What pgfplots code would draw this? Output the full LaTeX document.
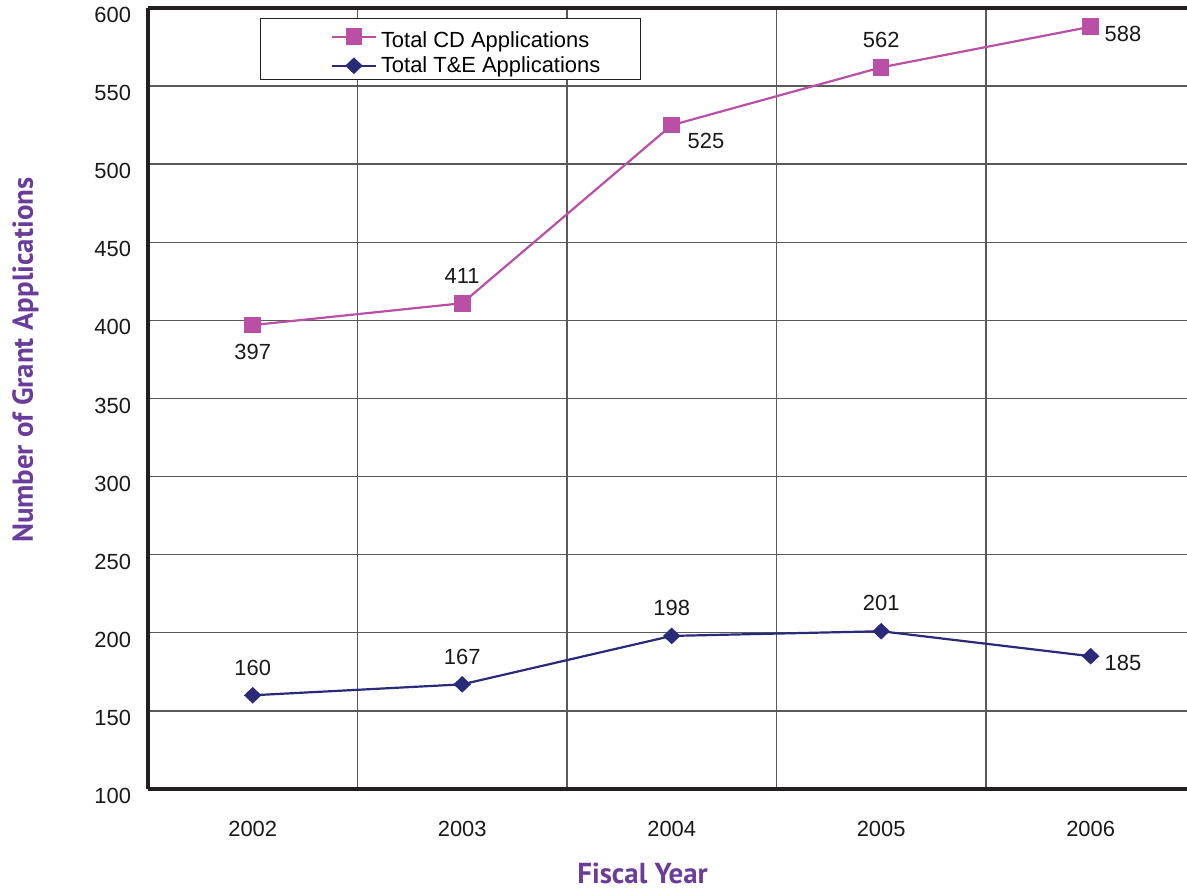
\documentclass[border=0pt]{standalone}
\usepackage{pgfplots}
\pgfplotsset{compat=1.18}
\usepackage{fontspec}
\setmainfont{Liberation Sans}
\newfontfamily\labelfont{PT Sans}
\definecolor{cdcol}{RGB}{185,80,166}
\definecolor{tecol}{RGB}{43,42,120}
\definecolor{labcol}{RGB}{106,61,154}
\definecolor{axcol}{RGB}{35,31,32}
\begin{document}
\begin{tikzpicture}
\useasboundingbox (0,0) rectangle (593.5bp,444bp);
\begin{axis}[
  at={(74bp,49.5bp)}, anchor=south west,
  scale only axis, width=519.5bp, height=390.5bp,
  xmin=-0.5, xmax=4.46, ymin=100, ymax=600,
  axis x line*=box, axis y line*=left,
  axis line style={line width=2bp, color=axcol},
  xtick={0,1,2,3,4}, xticklabels={2002,2003,2004,2005,2006},
  minor xtick={0.5,1.5,2.5,3.5},
  ytick={100,150,...,600},
  major tick length=0pt, minor tick length=0pt,
  ymajorgrids, xminorgrids,
  grid style={line width=0.7bp, color=black!65},
  minor grid style={line width=0.7bp, color=black!65},
  tick label style={font=\fontsize{11}{13}\selectfont, color=black!90},
  /pgf/number format/assume math mode=true,
  yticklabel style={xshift=-5bp, yshift=-3.5bp},
  xticklabel style={yshift=-12.5bp},
  xlabel={\labelfont\bfseries Fiscal Year},
  ylabel={\labelfont\bfseries Number of Grant Applications},
  label style={font=\fontsize{14.5}{16}\selectfont, color=labcol},
  xlabel style={at={(axis description cs:0.476,-0.1076)}, anchor=center},
  ylabel style={at={(axis description cs:-0.118,0.549)}, anchor=center, rotate=0},
  legend style={at={(axis description cs:0.108,0.987)}, anchor=north west,
    draw=axcol, line width=0.6bp, font=\fontsize{11}{11}\selectfont,
    row sep=-1.2bp, inner xsep=18bp, inner ysep=0bp},
  legend cell align=left,
  legend image code/.code={
    \path (-17bp,0bp);
    \draw[#1, mark repeat=2, mark phase=2] plot coordinates {(0bp,0bp) (11bp,0bp) (22bp,0bp)};},
  legend columns=1,
  clip=false,
  every node near coord/.append style={font=\fontsize{11}{13}\selectfont, color=black!90},
]
\addplot[color=cdcol, line width=1.1bp, mark=square*, mark size=3.6bp, mark options={solid, fill=cdcol}]
  coordinates {(0,397) (1,411) (2,525) (3,562) (4,588)};
\addlegendentry{\rule{0pt}{12.5bp}Total CD Applications}
\addplot[color=tecol, line width=1.1bp, mark=diamond*, mark size=3.4bp, mark options={solid, fill=tecol, xscale=1.4}]
  coordinates {(0,160) (1,167) (2,198) (3,201) (4,185)};
\addlegendentry{Total T\&E Applications\hspace{4bp}}
% labels above
\addplot[draw=none, forget plot, nodes near coords, nodes near coords style={anchor=south, yshift=6.5bp}]
  coordinates {(1,411) (3,562) (0,160) (1,167) (2,198) (3,201)};
% label below
\addplot[draw=none, forget plot, nodes near coords, nodes near coords style={anchor=north, yshift=-6bp}]
  coordinates {(0,397)};
% label right-below
\addplot[draw=none, forget plot, nodes near coords, nodes near coords style={anchor=west, xshift=4.5bp, yshift=-8bp}]
  coordinates {(2,525)};
% labels right
\addplot[draw=none, forget plot, nodes near coords, nodes near coords style={anchor=west, xshift=3.5bp, yshift=-3.5bp}]
  coordinates {(4,588) (4,185)};
\end{axis}
\end{tikzpicture}
\end{document}
